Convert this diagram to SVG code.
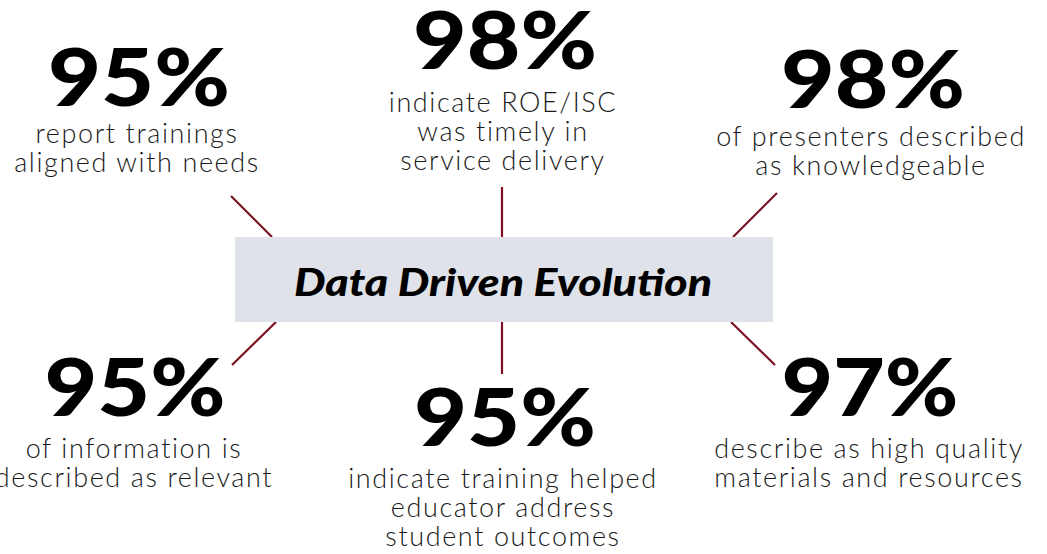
<svg xmlns="http://www.w3.org/2000/svg" width="1047" height="554" viewBox="0 0 1047 554">
<style>
.num{font-family:Lato,"Liberation Sans",sans-serif;font-weight:900;font-size:80px;fill:#000;text-anchor:middle}
.lbl{font-family:Lato,"Liberation Sans",sans-serif;font-weight:300;font-size:27px;fill:#1a1a1a;text-anchor:middle;letter-spacing:1.6px}
.title{font-family:Lato,"Liberation Sans",sans-serif;font-weight:900;font-style:italic;font-size:38px;fill:#000;text-anchor:middle}
.conn line{stroke:#7b1020;stroke-width:2.2}
</style>
<rect width="1047" height="554" fill="#fff"/>
<g id="connectors" class="conn">
<line x1="231" y1="196" x2="272" y2="237"/>
<line x1="502" y1="187" x2="502" y2="237"/>
<line x1="777" y1="193" x2="733" y2="237"/>
<line x1="276" y1="322" x2="232" y2="365"/>
<line x1="502" y1="322" x2="502" y2="374"/>
<line x1="731" y1="322" x2="775" y2="365"/>
</g>
<g id="center">
<rect x="235" y="237" width="538" height="85" fill="#dfe2e9"/>
<text class="title" x="503" y="296" textLength="418" lengthAdjust="spacingAndGlyphs">Data Driven Evolution</text>
</g>
<g id="stat1">
<text class="num" x="139" y="106" textLength="182" lengthAdjust="spacingAndGlyphs">95%</text>
<text class="lbl" x="137" y="143">report trainings</text>
<text class="lbl" x="137" y="172">aligned with needs</text>
</g>
<g id="stat2">
<text class="num" x="505" y="69" textLength="184" lengthAdjust="spacingAndGlyphs">98%</text>
<text class="lbl" x="503" y="112">indicate ROE/ISC</text>
<text class="lbl" x="503" y="141">was timely in</text>
<text class="lbl" x="503" y="170">service delivery</text>
</g>
<g id="stat3">
<text class="num" x="873" y="108" textLength="184" lengthAdjust="spacingAndGlyphs">98%</text>
<text class="lbl" x="871" y="146">of presenters described</text>
<text class="lbl" x="871" y="175">as knowledgeable</text>
</g>
<g id="stat4">
<text class="num" x="135" y="416" textLength="181" lengthAdjust="spacingAndGlyphs">95%</text>
<text class="lbl" x="134" y="458">of information is</text>
<text class="lbl" x="134" y="487">described as relevant</text>
</g>
<g id="stat5">
<text class="num" x="505" y="446" textLength="182" lengthAdjust="spacingAndGlyphs">95%</text>
<text class="lbl" x="503" y="488">indicate training helped</text>
<text class="lbl" x="503" y="517">educator address</text>
<text class="lbl" x="503" y="546">student outcomes</text>
</g>
<g id="stat6">
<text class="num" x="870" y="416" textLength="177" lengthAdjust="spacingAndGlyphs">97%</text>
<text class="lbl" x="869" y="458">describe as high quality</text>
<text class="lbl" x="869" y="487">materials and resources</text>
</g>
</svg>
